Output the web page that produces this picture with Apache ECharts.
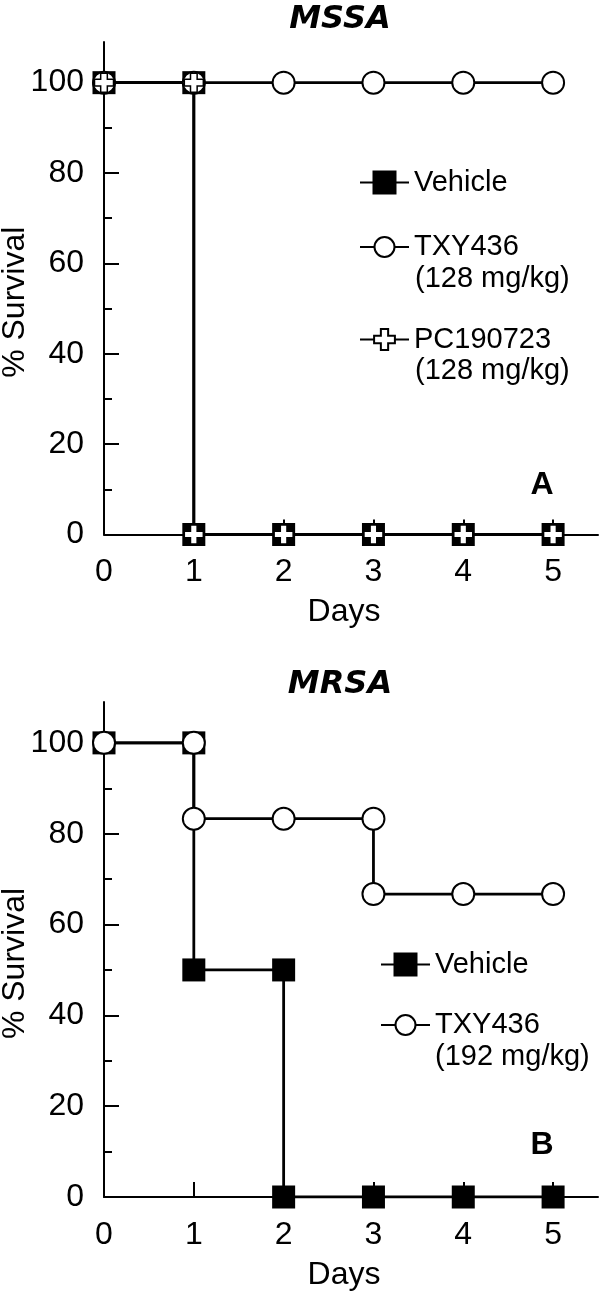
<!DOCTYPE html>
<html><head><meta charset="utf-8">
<script src="https://cdn.jsdelivr.net/npm/echarts@6/dist/echarts.min.js"></script>
<style>html,body{margin:0;padding:0;background:#fff}#c{width:600px;height:1292px}</style>
</head><body><div id="c"></div><script>
// ---- data ----
const xTicks = [0, 1, 2, 3, 4, 5];
const yTicks = [0, 20, 40, 60, 80, 100];
const yMinorTicks = [10, 30, 50, 70, 90];
const panelTitles = ['MSSA', 'MRSA'];
const panelLetters = ['A', 'B'];
const mssaVehicle = [[0, 100], [1, 100], [1, 0], [2, 0], [3, 0], [4, 0], [5, 0]];
const mssaTXY = [[0, 100], [1, 100], [2, 100], [3, 100], [4, 100], [5, 100]];
const mssaPC = [[0, 100], [1, 100], [1, 0], [2, 0], [3, 0], [4, 0], [5, 0]];
const mrsaVehicle = [[0, 100], [1, 100], [1, 50], [2, 50], [2, 0], [3, 0], [4, 0], [5, 0]];
const mrsaTXY = [[0, 100], [1, 100], [1, 83.3], [2, 83.3], [3, 83.3], [3, 66.7], [4, 66.7], [5, 66.7]];
const doseMSSA = '(128 mg/kg)';
const doseMRSA = '(192 mg/kg)';

const FONT = '"Liberation Sans", Arial, sans-serif';
const TITLE_FONT = '"DejaVu Sans", sans-serif';
const BLACK = '#000';
const CROSS = 'path://M6.5,0H13.5V6.5H20V13.5H13.5V20H6.5V13.5H0V6.5H6.5Z';

const grids = [
  { left: 104, top: 42, width: 494, height: 492.5, outerBoundsMode: 'none', containLabel: false },
  { left: 104, top: 702, width: 494, height: 495, outerBoundsMode: 'none', containLabel: false }
];

function xAxis(g) {
  return {
    type: 'value', gridIndex: g, min: 0, max: 5.5,
    name: 'Days', nameLocation: 'middle', nameGap: 62, nameMoveOverlap: false,
    nameTextStyle: { fontFamily: FONT, fontSize: 32, color: BLACK, padding: [0, 14, 0, 0] },
    axisLine: { show: true, lineStyle: { color: BLACK, width: 2 } },
    axisTick: { show: true, inside: true, length: 15, customValues: xTicks, lineStyle: { color: BLACK, width: 2 } },
    axisLabel: { customValues: xTicks, margin: 22, fontFamily: FONT, fontSize: 32, color: BLACK },
    splitLine: { show: false }
  };
}
function yAxis(g) {
  return {
    type: 'value', gridIndex: g, min: 0, max: 109, position: 'left',
    name: '% Survival', nameLocation: 'middle', nameGap: 73, nameRotate: 90, nameMoveOverlap: false,
    nameTextStyle: { fontFamily: FONT, fontSize: 32, color: BLACK, padding: [0, 28, 0, 0] },
    axisLine: { show: true, lineStyle: { color: BLACK, width: 2 } },
    axisTick: { show: true, inside: true, length: 15, customValues: yTicks, lineStyle: { color: BLACK, width: 2 } },
    axisLabel: { customValues: yTicks, margin: 20, fontFamily: FONT, fontSize: 32, color: BLACK },
    splitLine: { show: false }
  };
}
function yMinorAxis(g) {
  return {
    type: 'value', gridIndex: g, min: 0, max: 109, position: 'left', offset: 0,
    axisLine: { show: false },
    axisTick: { show: true, inside: true, length: 8, customValues: yMinorTicks, lineStyle: { color: BLACK, width: 2 } },
    axisLabel: { show: false },
    splitLine: { show: false }
  };
}

function lineSeries(name, data, g, kind) {
  const s = {
    name, type: 'line', data, xAxisIndex: g, yAxisIndex: g * 2,
    lineStyle: { color: BLACK, width: 2.8 },
    showAllSymbol: true, animation: false
  };
  if (kind === 'rect') {
    s.symbol = 'rect'; s.symbolSize = 23;
    s.itemStyle = { color: BLACK, borderColor: BLACK, borderWidth: 0 };
  } else if (kind === 'circle') {
    s.symbol = 'circle'; s.symbolSize = 22;
    s.itemStyle = { color: '#fff', borderColor: BLACK, borderWidth: 2 };
  } else {
    s.symbol = CROSS; s.symbolSize = 19;
    s.itemStyle = { color: '#fff', borderColor: BLACK, borderWidth: 1.5 };
  }
  return s;
}

function legendItem(name, left, cy, h) {
  return {
    data: [name], left, top: cy - h / 2, padding: 0, itemGap: 0,
    itemWidth: 49, itemHeight: h, selectedMode: false,
    textStyle: { fontFamily: FONT, fontSize: 29, color: BLACK }
  };
}

const titleStyle = { fontFamily: TITLE_FONT, fontWeight: 'bold', fontStyle: 'italic', fontSize: 32, color: BLACK };
const letterStyle = { fontFamily: FONT, fontWeight: 'bold', fontSize: 32, color: BLACK };

const chart = echarts.init(document.getElementById('c'), null, { renderer: 'canvas' });
chart.setOption({
  backgroundColor: '#fff',
  animation: false,
  title: [
    { text: panelTitles[0], left: 340, top: 4, textAlign: 'center', padding: 0, textStyle: titleStyle },
    { text: panelTitles[1], left: 340, top: 669, textAlign: 'center', padding: 0, textStyle: titleStyle },
    { text: panelLetters[0], left: 542, top: 469, textAlign: 'center', padding: 0, textStyle: letterStyle },
    { text: panelLetters[1], left: 542, top: 1129, textAlign: 'center', padding: 0, textStyle: letterStyle }
  ],
  grid: grids,
  xAxis: [xAxis(0), xAxis(1)],
  yAxis: [yAxis(0), yMinorAxis(0), yAxis(1), yMinorAxis(1)],
  legend: [
    legendItem('Vehicle', 359, 183, 30),
    legendItem('TXY436', 359, 245, 25),
    legendItem('PC190723', 359, 338, 26),
    legendItem('Vehicle', 380, 965, 30),
    legendItem('TXY436', 380, 1023, 25)
  ],
  graphic: [
    { type: 'text', left: 415, top: 280 - 16, style: { text: doseMSSA, font: '29px ' + FONT, fill: BLACK } },
    { type: 'text', left: 415, top: 372 - 16, style: { text: doseMSSA, font: '29px ' + FONT, fill: BLACK } },
    { type: 'text', left: 435, top: 1058 - 16, style: { text: doseMRSA, font: '29px ' + FONT, fill: BLACK } }
  ],
  series: [
    lineSeries('Vehicle', mssaVehicle, 0, 'rect'),
    lineSeries('TXY436', mssaTXY, 0, 'circle'),
    lineSeries('PC190723', mssaPC, 0, 'cross'),
    lineSeries('Vehicle', mrsaVehicle, 1, 'rect'),
    lineSeries('TXY436', mrsaTXY, 1, 'circle')
  ]
});
</script></body></html>
